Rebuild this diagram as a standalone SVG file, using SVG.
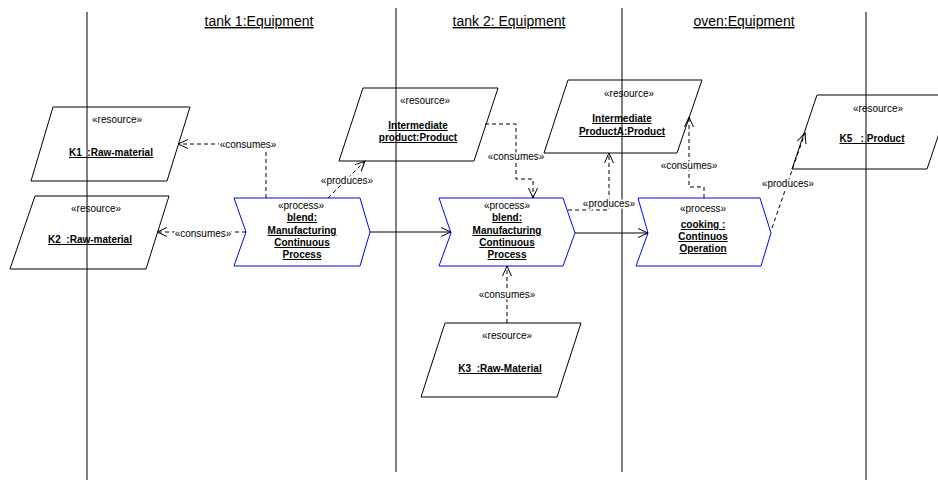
<svg xmlns="http://www.w3.org/2000/svg" width="938" height="480" viewBox="0 0 938 480">
  <defs>
    <marker id="open" markerUnits="userSpaceOnUse" markerWidth="12" markerHeight="12" viewBox="0 0 12 12" refX="11" refY="6" orient="auto">
      <path d="M1,1.5 L11,6 L1,10.5" fill="none" stroke="#000" stroke-width="1"/>
    </marker>
    <style>
      text { font-family: "Liberation Sans", Arial, sans-serif; fill: #000; white-space: pre; }
      .lane { stroke: #000; stroke-width: 1; }
      .title { font-size: 14px; text-decoration: underline; text-anchor: middle; }
      .res { fill: #fff; stroke: #000; stroke-width: 1; }
      .proc { fill: #fff; stroke: #0000ff; stroke-width: 1; }
      .st { font-size: 10px; text-anchor: middle; }
      .nm { font-size: 10px; font-weight: bold; text-decoration: underline; text-anchor: middle; }
      .dep { fill: none; stroke: #000; stroke-width: 1; stroke-dasharray: 4,3; marker-end: url(#open); }
      .flow { fill: none; stroke: #000; stroke-width: 1; marker-end: url(#open); }
      .lbl { font-size: 10px; text-anchor: middle; paint-order: stroke; stroke: #fff; stroke-width: 3px; }
    </style>
  </defs>

  <!-- resource objects -->
  <g id="k1">
    <polygon class="res" points="53,107 190,107 167,181 31,181"/>
    <text class="st" x="117" y="123">«resource»</text>
    <text class="nm" x="111" y="156">K1  :Raw-material</text>
  </g>
  <g id="k2">
    <polygon class="res" points="35,196 169,196 146,269 10,269"/>
    <text class="st" x="96" y="212">«resource»</text>
    <text class="nm" x="90" y="243">K2  :Raw-material</text>
  </g>
  <g id="intermediate-product">
    <polygon class="res" points="363,88 498,88 474,161 339,161"/>
    <text class="st" x="425" y="104">«resource»</text>
    <text class="nm" x="418" y="129">Intermediate</text>
    <text class="nm" x="418" y="141">product:Product</text>
  </g>
  <g id="intermediate-product-a">
    <polygon class="res" points="568,80 702,80 677,153 544,153"/>
    <text class="st" x="629" y="97">«resource»</text>
    <text class="nm" x="622" y="122">Intermediate</text>
    <text class="nm" x="622" y="135">ProductA:Product</text>
  </g>
  <g id="k3">
    <polygon class="res" points="445,323 581,323 557,397 421,397"/>
    <text class="st" x="507" y="339">«resource»</text>
    <text class="nm" x="500" y="372">K3  :Raw-Material</text>
  </g>
  <g id="k5">
    <polygon class="res" points="817,95 952,95 927,169 792,169"/>
    <text class="st" x="878" y="112">«resource»</text>
    <text class="nm" x="872" y="142">K5   : Product</text>
  </g>

  <!-- process steps -->
  <g id="blend-1">
    <polygon class="proc" points="234,198 360,198 370,232 360,266 234,266 246,232"/>
    <text class="st" x="301" y="209">«process»</text>
    <text class="nm" x="302" y="221">blend:</text>
    <text class="nm" x="302" y="234">Manufacturing</text>
    <text class="nm" x="302" y="246">Continuous</text>
    <text class="nm" x="302" y="258">Process</text>
  </g>
  <g id="blend-2">
    <polygon class="proc" points="439,198 563,198 575,233 563,266 439,266 451,233"/>
    <text class="st" x="507" y="209">«process»</text>
    <text class="nm" x="507" y="221">blend:</text>
    <text class="nm" x="507" y="234">Manufacturing</text>
    <text class="nm" x="507" y="246">Continuous</text>
    <text class="nm" x="507" y="258">Process</text>
  </g>
  <g id="cooking">
    <polygon class="proc" points="638,198 760,198 771,233 761,266 636,266 648,233"/>
    <text class="st" x="703" y="212">«process»</text>
    <text class="nm" x="703" y="228">cooking :</text>
    <text class="nm" x="703" y="240">Continuos</text>
    <text class="nm" x="703" y="252">Operation</text>
  </g>

  <!-- swimlane separators and headers -->
  <g id="lanes">
    <line class="lane" x1="87" y1="12" x2="87" y2="480"/>
    <line class="lane" x1="396" y1="8" x2="396" y2="472"/>
    <line class="lane" x1="622" y1="8" x2="622" y2="472"/>
    <line class="lane" x1="866" y1="12" x2="866" y2="480"/>
    <text class="title" x="259" y="26">tank 1:Equipment</text>
    <text class="title" x="509" y="26">tank 2: Equipment</text>
    <text class="title" x="744" y="26">oven:Equipment</text>
  </g>

  <!-- connectors -->
  <g id="connectors">
    <path class="flow" d="M370,232 H451"/>
    <path class="flow" d="M575,233 H648"/>
    <path class="dep" d="M266,198 V144 H178"/>
    <path class="dep" d="M246,232 H157"/>
    <path class="dep" d="M328,198 L365,161"/>
    <path class="dep" d="M485,124 H516 V179 H533 V198"/>
    <path class="dep" d="M568,210 H609 V153"/>
    <path class="dep" d="M507,323 V266"/>
    <path class="dep" d="M704,198 V187 H689 V117"/>
    <path class="dep" d="M772,228 L805,133"/>
    <text class="lbl" x="248" y="148">«consumes»</text>
    <text class="lbl" x="203" y="237">«consumes»</text>
    <text class="lbl" x="347" y="184">«produces»</text>
    <text class="lbl" x="516" y="160">«consumes»</text>
    <text class="lbl" x="609" y="207">«produces»</text>
    <text class="lbl" x="507" y="298">«consumes»</text>
    <text class="lbl" x="689" y="169">«consumes»</text>
    <text class="lbl" x="788" y="187">«produces»</text>
  </g>
</svg>
